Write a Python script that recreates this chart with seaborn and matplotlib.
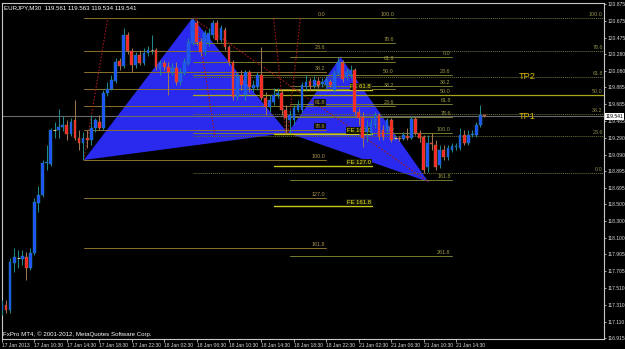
import numpy as np
import pandas as pd
import matplotlib
matplotlib.use("Agg")
import matplotlib.pyplot as plt
from matplotlib.patches import Polygon
import seaborn as sns

# ---------------- data ----------------
opens = [117.247, 117.306, 117.247, 117.804, 117.863, 117.851, 117.875, 117.745, 117.922, 118.515,
         118.610, 118.990, 118.978, 119.381, 119.381, 119.416, 119.440, 119.333, 119.499, 119.286,
         119.227, 119.286, 119.262, 119.404, 119.476, 119.404, 119.819, 119.867, 119.962, 120.199,
         120.139, 120.507, 120.317, 120.151, 120.270, 120.175, 120.294, 120.329, 120.329, 120.104,
         120.175, 120.128, 120.068, 120.116, 119.950, 120.057, 120.175, 120.412, 120.649, 120.424,
         120.305, 120.412, 120.507, 120.649, 120.448, 120.566, 120.365, 120.187, 119.772, 120.033,
         119.796, 120.068, 119.879, 119.891, 120.033, 119.760, 119.653, 119.713, 119.796, 119.819,
         119.618, 119.499, 119.499, 119.618, 119.618, 119.891, 119.962, 119.902, 119.962, 119.926,
         119.914, 119.950, 119.855, 120.057, 120.175, 120.009, 120.033, 120.092, 119.594, 119.535,
         119.357, 119.345, 119.440, 119.559, 119.381, 119.381, 119.499, 119.286, 119.286, 119.274,
         119.310, 119.286, 119.511, 119.345, 119.298, 118.942, 119.227, 119.203, 118.966, 119.144,
         119.061, 119.144, 119.179, 119.167, 119.321, 119.227, 119.321, 119.321, 119.440, 119.561]
highs = [117.365, 117.365, 117.863, 117.982, 117.958, 117.958, 117.934, 117.982, 118.574, 118.717,
         119.025, 119.203, 119.404, 119.476, 119.630, 119.547, 119.499, 119.523, 119.736, 119.381,
         119.357, 119.381, 119.559, 119.523, 119.559, 119.855, 119.950, 120.033, 120.234, 120.234,
         120.590, 120.543, 120.353, 120.305, 120.329, 120.353, 120.377, 120.507, 120.353, 120.211,
         120.211, 120.187, 120.175, 120.187, 120.116, 120.234, 120.472, 120.709, 120.685, 120.472,
         120.566, 120.590, 120.685, 120.685, 120.626, 120.602, 120.389, 120.211, 120.068, 120.092,
         120.092, 120.092, 119.974, 120.068, 120.365, 119.831, 119.796, 119.879, 119.879, 119.855,
         119.677, 119.618, 119.677, 119.736, 119.950, 120.033, 119.997, 120.021, 120.009, 119.997,
         120.021, 119.985, 120.092, 120.246, 120.211, 120.116, 120.151, 120.116, 119.642, 119.594,
         119.499, 119.523, 119.594, 119.582, 119.440, 119.523, 119.523, 119.321, 119.310, 119.357,
         119.404, 119.547, 119.535, 119.381, 119.321, 119.321, 119.345, 119.262, 119.203, 119.203,
         119.203, 119.227, 119.227, 119.404, 119.381, 119.381, 119.381, 119.476, 119.677, 119.563]
lows = [117.187, 117.211, 117.211, 117.697, 117.745, 117.780, 117.603, 117.721, 117.899, 118.409,
        118.586, 118.906, 118.954, 119.286, 119.286, 119.369, 119.262, 119.310, 119.262, 119.144,
        119.025, 119.167, 119.203, 119.357, 119.381, 119.381, 119.784, 119.855, 119.938, 120.092,
        120.116, 120.282, 120.068, 120.116, 120.151, 120.151, 120.258, 120.282, 120.092, 120.033,
        120.092, 119.796, 120.033, 119.914, 119.914, 120.033, 120.151, 120.389, 120.389, 120.258,
        120.270, 120.377, 120.472, 120.424, 120.424, 120.329, 120.151, 119.736, 119.736, 119.855,
        119.736, 119.831, 119.831, 119.855, 119.736, 119.559, 119.594, 119.677, 119.760, 119.559,
        119.333, 119.345, 119.440, 119.594, 119.594, 119.855, 119.855, 119.879, 119.879, 119.891,
        119.879, 119.891, 119.831, 120.033, 119.950, 119.974, 119.997, 119.559, 119.440, 119.179,
        119.239, 119.321, 119.404, 119.262, 119.262, 119.345, 119.239, 119.262, 119.250, 119.262,
        119.262, 119.274, 119.321, 119.239, 118.871, 118.883, 119.144, 118.906, 118.930, 119.025,
        119.025, 119.120, 119.144, 119.144, 119.203, 119.203, 119.298, 119.298, 119.416, 119.534]
closes = [117.306, 117.247, 117.816, 117.875, 117.863, 117.887, 117.745, 117.922, 118.527, 118.610,
          118.990, 119.001, 119.381, 119.381, 119.416, 119.440, 119.333, 119.476, 119.286, 119.227,
          119.286, 119.262, 119.404, 119.499, 119.404, 119.819, 119.867, 119.974, 120.187, 120.139,
          120.507, 120.317, 120.151, 120.270, 120.175, 120.294, 120.329, 120.329, 120.128, 120.175,
          120.128, 120.068, 120.116, 119.950, 120.057, 120.187, 120.424, 120.685, 120.424, 120.305,
          120.531, 120.531, 120.649, 120.448, 120.590, 120.365, 120.187, 119.772, 120.009, 119.914,
          120.068, 119.891, 119.914, 120.033, 119.760, 119.653, 119.736, 119.796, 119.819, 119.618,
          119.523, 119.559, 119.642, 119.677, 119.914, 119.950, 119.902, 119.974, 119.914, 119.950,
          119.974, 119.914, 120.057, 120.187, 119.985, 120.068, 120.092, 119.594, 119.523, 119.286,
          119.416, 119.464, 119.559, 119.298, 119.298, 119.499, 119.262, 119.286, 119.274, 119.321,
          119.286, 119.511, 119.345, 119.286, 118.906, 119.227, 119.215, 118.942, 119.144, 119.061,
          119.167, 119.191, 119.191, 119.321, 119.227, 119.321, 119.333, 119.440, 119.559, 119.541]

time_labels = ["17 Jan 2013", "17 Jan 10:30", "17 Jan 14:30", "17 Jan 18:30", "17 Jan 22:30",
               "18 Jan 02:30", "18 Jan 06:30", "18 Jan 10:30", "18 Jan 14:30", "18 Jan 18:30",
               "18 Jan 22:30", "21 Jan 02:30", "21 Jan 06:30", "21 Jan 10:30", "21 Jan 14:30"]
time_label_bars = [0, 8, 16, 24, 32, 40, 48, 56, 64, 72, 80, 88, 96, 104, 112]

price_ticks = [120.875, 120.675, 120.475, 120.280, 120.080, 119.885, 119.685, 119.485, 119.290,
               119.090, 118.895, 118.695, 118.500, 118.300, 118.100, 117.905, 117.705, 117.510,
               117.310, 117.110, 116.915]
bid_price = 119.541

# harmonic pattern points (bar index, price)
pat_bars = [20.2, 47.0, 70.5, 83.5, 105.2]          # X, A, B, C, D
pat_prices = [119.025, 120.709, 119.345, 120.246, 118.765]
D_low = 118.871

ratios_main = [0.0, 23.6, 38.2, 50.0, 61.8, 78.6, 100.0]
ratios_A = ratios_main + [127.0, 161.8]
ratios_D = ratios_main + [161.8, 261.8]
fe_labels = ["FE 61.8", "FE 100.0", "FE 127.0", "FE 161.8"]
fe_prices = [119.855, 119.333, 118.954, 118.480]

# ---------------- style ----------------
sns.set_theme(style="dark", rc={"axes.facecolor": "black", "figure.facecolor": "black"})
plt.rcParams["font.family"] = ["Liberation Sans", "DejaVu Sans"]

fig = plt.figure(figsize=(6.25, 3.49), dpi=100, facecolor="black")
ax = fig.add_axes([2 / 625, 1 - 339 / 349, 602 / 625, 336 / 349])
ax.set_facecolor("black")
XMAX = 148.5
ax.set_xlim(0.25, XMAX)
ax.set_ylim(116.903, 120.886)

df = pd.DataFrame({"o": opens, "h": highs, "l": lows, "c": closes})
df["i"] = np.arange(len(df))

X, A, B, C, D = list(zip(pat_bars, pat_prices))

# triangles (behind everything)
tri_col = "#2a2aee"
ax.add_patch(Polygon([X, A, B], closed=True, facecolor=tri_col, edgecolor="none", zorder=1))
ax.add_patch(Polygon([B, C, D], closed=True, facecolor=tri_col, edgecolor="none", zorder=1))

# Fibonacci objects
def fib(x0, x1, p0, p100, ratios, col, lab_col, ls="-", lw=0.7, boxed=()):
    for r in ratios:
        p = p0 + (p100 - p0) * r / 100.0
        ax.plot([x0, x1], [p, p], color=col, lw=lw, ls=ls, zorder=2)
        bb = dict(facecolor="#101010", edgecolor="none", pad=0.6) if r in boxed else None
        ax.text(x1 - 0.3, p + 0.012, f"{r:.1f}", color=lab_col, fontsize=3.9,
                ha="right", va="bottom", zorder=3, bbox=bb)

fib(pat_bars[0], 80.0, A[1], X[1], ratios_A, "#8a722e", "#a8944c", boxed=(50.0, 61.8, 78.6))
fib(A[0], 97.0, B[1], A[1], ratios_main, "#7c7a2c", "#a09a48")
fib(A[0], XMAX, D_low, A[1], ratios_main, "#5f6030", "#8e8c48", ls=(0, (1.2, 0.8)))
fib(71.0, 111.0, C[1], B[1], ratios_D, "#767a2e", "#9c9a48")

# emphasised 50% line of the A-D retracement
p50 = D_low + (A[1] - D_low) * 0.5
ax.plot([A[0], XMAX], [p50, p50], color="#a8a818", lw=0.9, zorder=2)

# FE levels
for lab, p in zip(fe_labels, fe_prices):
    ax.plot([67.0, 91.2], [p, p], color="#c8c818", lw=1.0, zorder=2)
    ax.text(91.0, p + 0.01, lab, color="#e8e820", fontsize=4.2, ha="right", va="bottom",
            zorder=3, bbox=dict(facecolor="#181808", edgecolor="none", pad=0.5))

# dotted red guide lines
red = "#a01818"
guides = [
    ((X[0], X[1]), (26.1, 120.709)),
    ((48.0, 120.709), (52.5, 119.321)),
    ((A[0], A[1]), (D[0], D[1])),
    ((67.0, 120.70), (B[0] - 0.5, B[1])),
    ((73.6, 120.70), (B[0], B[1])),
]
for (x0, y0), (x1, y1) in guides:
    ax.plot([x0, x1], [y0, y1], color=red, lw=0.8, ls=(0, (1.5, 1.5)), zorder=2)

# bid line
ax.axhline(bid_price, color="#6a6a6a", lw=0.8, zorder=2)

# candles
bull_body, bear_body = "#2050ff", "#ff2424"
bull_wick, bear_wick = "#1f8c8c", "#a07a52"
for _, r in df.iterrows():
    bull = r.c >= r.o
    wc = bull_wick if bull else bear_wick
    ax.vlines(r.i, r.l, r.h, color=wc, lw=0.7, zorder=4)
    lo, hi = min(r.o, r.c), max(r.o, r.c)
    if hi - lo < 0.006:
        ax.hlines(r.c, r.i - 0.35, r.i + 0.35, color="#e0c090", lw=0.8, zorder=5)
    else:
        ax.bar(r.i, hi - lo, bottom=lo, width=0.68,
               color=bull_body if bull else bear_body,
               edgecolor=wc, linewidth=0.3, zorder=5)

# TP labels
ax.text(129.5, 120.012, "TP2", color="#d8b800", fontsize=6.6, ha="center", va="center", zorder=6)
ax.text(129.5, 119.541, "TP1", color="#d8b800", fontsize=6.6, ha="center", va="center", zorder=6)

# texts
ax.text(0.004, 0.992, "EURJPY,M30  119.561 119.563 119.534 119.541", transform=ax.transAxes,
        color="white", fontsize=4.4, ha="left", va="top", zorder=7)
ax.text(0.002, 0.006, "FxPro MT4, \u00a9 2001-2012, MetaQuotes Software Corp.", transform=ax.transAxes,
        color="white", fontsize=4.4, ha="left", va="bottom", zorder=7)

# axes
ax.yaxis.tick_right()
ax.set_yticks(price_ticks)
ax.set_yticklabels([f"{v:.3f}" for v in price_ticks], fontsize=3.6, color="#d8d8d8")
ax.set_xticks(time_label_bars)
ax.set_xticklabels(time_labels, fontsize=3.6, color="#d8d8d8", ha="left")
ax.tick_params(axis="y", length=1.5, width=0.6, color="#c0c0c0", pad=0.8, right=True, left=False)
ax.tick_params(axis="x", length=2.5, width=0.6, color="#c0c0c0", pad=0.5, bottom=True)
for s in ax.spines.values():
    s.set_color("#c8c8c8")
    s.set_linewidth(0.8)
ax.grid(False)

ax.annotate(f"{bid_price:.3f}", xy=(1.0, bid_price), xycoords=("axes fraction", "data"),
            xytext=(1.2, 0), textcoords="offset points", fontsize=3.6, color="black",
            ha="left", va="center", annotation_clip=False,
            bbox=dict(facecolor="white", edgecolor="none", pad=0.6))

fig.savefig("out.png", dpi=100, facecolor="black")
